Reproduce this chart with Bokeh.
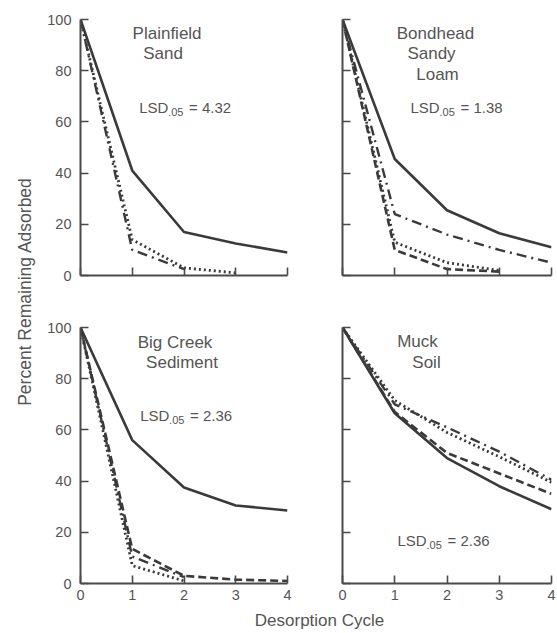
import math
from bokeh.plotting import figure
from bokeh.models import Range1d, FixedTicker, Label
from bokeh.layouts import row, column
from bokeh.embed import file_html
from bokeh.resources import INLINE

# ---------------- data ----------------
cycles = [0, 1, 2, 3, 4]
x_ticks = [0, 1, 2, 3, 4]
y_ticks = [0, 20, 40, 60, 80, 100]

plainfield_solid = [100, 41, 17, 12.5, 9]
plainfield_dotted = [100, 14, 3, 1]
plainfield_dashdot = [100, 10, 2.5]

bondhead_solid = [100, 45.5, 25.5, 16.5, 11]
bondhead_dashdot = [100, 24, 16, 10, 5]
bondhead_dotted = [100, 13, 5, 2]
bondhead_dashed = [100, 10, 2.5, 1.5]

bigcreek_solid = [100, 56, 37.5, 30.5, 28.5]
bigcreek_dashed = [100, 13.5, 3, 1.5, 1]
bigcreek_dashdot = [100, 10.5, 2.5]
bigcreek_dotted = [100, 7, 1]

muck_solid = [100, 66.5, 49, 38, 29]
muck_dashed = [100, 67, 51, 43, 35]
muck_dotted = [100, 71.5, 59, 49.5, 39.5]
muck_dashdot = [100, 70, 61, 51.5, 40.5]

titles = {
    "pf": ["Plainfield", "Sand"],
    "bh": ["Bondhead", "Sandy", "Loam"],
    "bc": ["Big Creek", "Sediment"],
    "mk": ["Muck", "Soil"],
}
lsd_values = {"pf": "4.32", "bh": "1.38", "bc": "2.36", "mk": "2.36"}

LINE = "#3a3a3a"
TEXT = "#555555"
AXIS = "#4a4a4a"
FONT = "Liberation Sans"

STYLES = {
    "solid": dict(line_dash="solid", line_width=2.6),
    "dashed": dict(line_dash="8 4", line_width=2.6),
    "dotted": dict(line_dash="2 3", line_width=2.8),
    "dashdot": dict(line_dash="10 5 2 5", line_width=2.4),
}

# page-pixel frames for each panel (left, right, top, bottom), used only for text placement
FRAMES = {
    "pf": (79, 287, 19, 275),
    "bh": (342, 551, 19, 275),
    "bc": (79, 287, 327, 583),
    "mk": (342, 551, 327, 583),
}


def to_data(key, px, py):
    l, r, t, b = FRAMES[key]
    return (px - l) / (r - l) * 4.0, (b - py) / (b - t) * 100.0


def make_panel(key, width, height, bl, br, bt, bb, show_x_labels, show_y_labels, series):
    p = figure(width=width, height=height, x_range=Range1d(0, 4), y_range=Range1d(0, 100),
               output_backend="svg", toolbar_location=None,
               min_border_left=bl, min_border_right=br, min_border_top=bt, min_border_bottom=bb)
    p.outline_line_color = None
    p.grid.visible = False
    p.background_fill_color = "white"
    p.border_fill_color = "white"
    for ax, ticks, show in ((p.xaxis[0], x_ticks, show_x_labels), (p.yaxis[0], y_ticks, show_y_labels)):
        ax.ticker = FixedTicker(ticks=ticks)
        ax.minor_tick_line_color = None
        ax.major_tick_in = 8
        ax.major_tick_out = 0
        ax.major_tick_line_width = 1.6
        ax.major_tick_line_color = AXIS
        ax.axis_line_width = 2
        ax.axis_line_color = AXIS
        ax.major_label_text_font = FONT
        ax.major_label_text_font_size = "14.5px"
        ax.major_label_text_color = TEXT
        if not show:
            ax.major_label_overrides = {t: "" for t in ticks}
            ax.major_label_text_font_size = "1px"
    p.xaxis[0].major_label_standoff = 6
    p.yaxis[0].major_label_standoff = 9
    for style, vals in series:
        p.line(cycles[:len(vals)], vals, line_color=LINE, **STYLES[style])
    return p


def add_texts(p, key, title_pos, lsd_pos):
    for txt, (cx, by) in zip(titles[key], title_pos):
        x, y = to_data(key, cx, by)
        p.add_layout(Label(x=x, y=y, text=txt, text_font=FONT, text_font_size="17px",
                           text_color=TEXT, text_align="center", text_baseline="alphabetic"))
    lx, lb = lsd_pos
    x, y = to_data(key, lx, lb)
    p.add_layout(Label(x=x, y=y, text="LSD", text_font=FONT, text_font_size="15px",
                       text_color=TEXT, text_align="left", text_baseline="alphabetic"))
    x2, y2 = to_data(key, lx + 29, lb + 4)
    p.add_layout(Label(x=x2, y=y2, text=".05", text_font=FONT, text_font_size="11px",
                       text_color=TEXT, text_align="left", text_baseline="alphabetic"))
    x3, y3 = to_data(key, lx + 50, lb)
    p.add_layout(Label(x=x3, y=y3, text="= " + lsd_values[key], text_font=FONT, text_font_size="15px",
                       text_color=TEXT, text_align="left", text_baseline="alphabetic"))


YL_W = 44
LEFT_W = 264
RIGHT_W = 248
TOP_H = 298
BOT_H = 310

pf = make_panel("pf", LEFT_W, TOP_H, 35, 21, 19, 23, False, True,
                [("solid", plainfield_solid), ("dotted", plainfield_dotted), ("dashdot", plainfield_dashdot)])
add_texts(pf, "pf", [(166, 33), (162, 53)], (138, 107))

bh = make_panel("bh", RIGHT_W, TOP_H, 34, 5, 19, 23, False, False,
                [("solid", bondhead_solid), ("dashdot", bondhead_dashdot),
                 ("dotted", bondhead_dotted), ("dashed", bondhead_dashed)])
add_texts(bh, "bh", [(435, 33), (431, 53), (437, 74)], (410, 107))

bc = make_panel("bc", LEFT_W, BOT_H, 35, 21, 29, 25, True, True,
                [("solid", bigcreek_solid), ("dashed", bigcreek_dashed),
                 ("dashdot", bigcreek_dashdot), ("dotted", bigcreek_dotted)])
add_texts(bc, "bc", [(174, 342), (181, 362)], (139, 415))

mk = make_panel("mk", RIGHT_W, BOT_H, 34, 5, 29, 25, True, False,
                [("solid", muck_solid), ("dashed", muck_dashed),
                 ("dotted", muck_dotted), ("dashdot", muck_dashdot)])
add_texts(mk, "mk", [(417, 341), (426, 362)], (397, 540))


def blank(width, height):
    q = figure(width=width, height=height, x_range=Range1d(0, width), y_range=Range1d(0, height),
               output_backend="svg", toolbar_location=None,
               min_border=0, min_border_left=0, min_border_right=0, min_border_top=0, min_border_bottom=0)
    q.axis.visible = False
    q.grid.visible = False
    q.outline_line_color = None
    q.background_fill_color = "white"
    q.border_fill_color = "white"
    return q


ylab = blank(YL_W, TOP_H + BOT_H)
ylab.add_layout(Label(x=24, y=TOP_H + BOT_H - 291, text="Percent Remaining Adsorbed",
                      text_font=FONT, text_font_size="17.5px", text_color=TEXT,
                      text_align="center", text_baseline="middle", angle=math.pi / 2))

XL_H = 24
xlab = blank(YL_W + LEFT_W + RIGHT_W, XL_H)
xlab.add_layout(Label(x=319, y=12, text="Desorption Cycle", text_font=FONT, text_font_size="17px",
                      text_color=TEXT, text_align="center", text_baseline="middle"))

layout = column(row(ylab, column(row(pf, bh), row(bc, mk))), xlab)

open("out.html", "w").write(file_html(layout, INLINE))
